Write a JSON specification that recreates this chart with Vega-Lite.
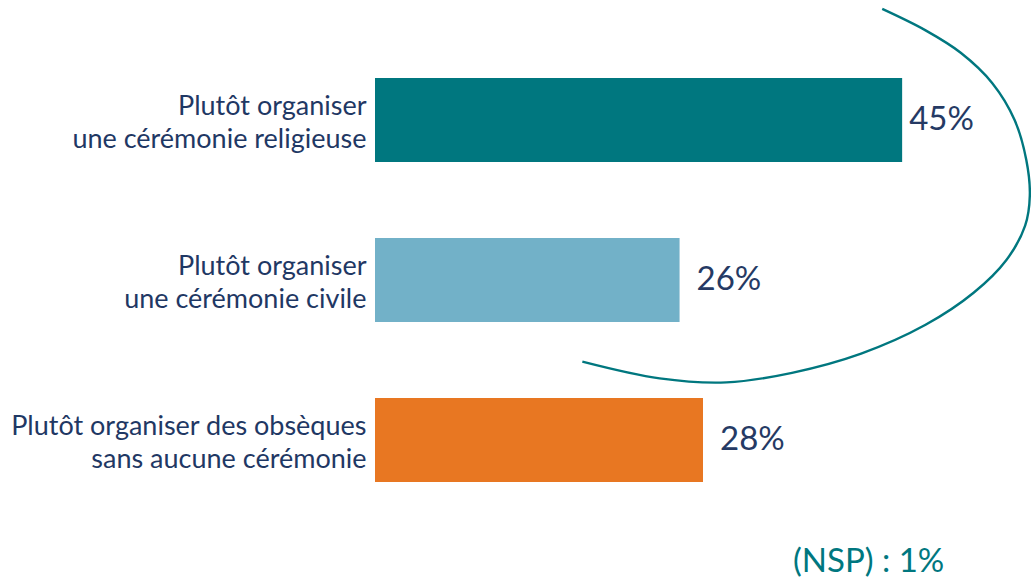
{
  "$schema": "https://vega.github.io/schema/vega-lite/v6.json",
  "width": 656,
  "height": 480,
  "autosize": {"type": "none"},
  "padding": {"left": 375, "top": 40, "right": 0, "bottom": 64},
  "background": "white",
  "config": {"view": {"stroke": null}, "font": "Lato"},
  "datasets": {
    "bars": [
      {"cat": "Plutôt organiser|une cérémonie religieuse", "pct": 45, "label": "45%"},
      {"cat": "Plutôt organiser|une cérémonie civile", "pct": 26, "label": "26%"},
      {"cat": "Plutôt organiser des obsèques|sans aucune cérémonie", "pct": 28, "label": "28%"}
    ],
    "arc": [
      {"i": 1, "pct": 43.3, "ay": 0.306},
      {"i": 2, "pct": 47.0, "ay": 0.44},
      {"i": 3, "pct": 50.0, "ay": 0.58},
      {"i": 4, "pct": 52.7, "ay": 0.77},
      {"i": 5, "pct": 54.6, "ay": 1.0},
      {"i": 6, "pct": 55.6, "ay": 1.25},
      {"i": 7, "pct": 55.9, "ay": 1.47},
      {"i": 8, "pct": 55.5, "ay": 1.66},
      {"i": 9, "pct": 53.9, "ay": 1.875},
      {"i": 10, "pct": 51.1, "ay": 2.08},
      {"i": 11, "pct": 47.0, "ay": 2.28},
      {"i": 12, "pct": 41.5, "ay": 2.46},
      {"i": 13, "pct": 35.6, "ay": 2.58},
      {"i": 14, "pct": 30.0, "ay": 2.64},
      {"i": 15, "pct": 24.3, "ay": 2.615},
      {"i": 16, "pct": 17.7, "ay": 2.51}
    ],
    "note": [
      {"pct": 48.6, "ay": 3.7625, "text": "(NSP) : 1%"}
    ]
  },
  "layer": [
    {
      "data": {"name": "bars"},
      "encoding": {
        "y": {
          "field": "cat", "type": "nominal", "sort": null,
          "scale": {"paddingInner": 0.475, "paddingOuter": 0.2375},
          "axis": {
            "title": null, "domain": false, "ticks": false,
            "labelExpr": "split(datum.label, '|')",
            "labelFontSize": 27, "labelColor": "#1F3864",
            "labelPadding": 9, "labelLineHeight": 33, "labelLimit": 400,
            "labelOffset": -13,
            "labelFont": "Lato"
          }
        },
        "x": {"field": "pct", "type": "quantitative", "scale": {"domain": [0, 56], "nice": false}, "axis": null}
      },
      "layer": [
        {
          "mark": {"type": "bar"},
          "encoding": {
            "color": {
              "field": "cat", "type": "nominal", "sort": null,
              "scale": {"range": ["#00777F", "#72B1C8", "#E87722"]},
              "legend": null
            }
          }
        },
        {
          "transform": [{"filter": "datum.pct == 45"}],
          "mark": {"type": "text", "align": "left", "baseline": "middle", "dx": 7, "fontSize": 33, "color": "#253A64"},
          "encoding": {"text": {"field": "label"}}
        },
        {
          "transform": [{"filter": "datum.pct != 45"}],
          "mark": {"type": "text", "align": "left", "baseline": "middle", "dx": 17, "fontSize": 33, "color": "#253A64"},
          "encoding": {"text": {"field": "label"}}
        }
      ]
    },
    {
      "layer": [
        {
          "data": {"name": "arc"},
          "mark": {"type": "line", "interpolate": "catmull-rom", "color": "#00777F", "strokeWidth": 2.4, "clip": false},
          "encoding": {
            "x": {"field": "pct", "type": "quantitative"},
            "y": {"field": "ay", "type": "quantitative", "scale": {"domain": [0.5, 3.5], "reverse": true, "nice": false, "zero": false}, "axis": null},
            "order": {"field": "i", "type": "quantitative"}
          }
        },
        {
          "data": {"name": "note"},
          "mark": {"type": "text", "align": "right", "baseline": "middle", "fontSize": 33, "color": "#00777F"},
          "encoding": {
            "x": {"field": "pct", "type": "quantitative"},
            "y": {"field": "ay", "type": "quantitative"},
            "text": {"field": "text"}
          }
        }
      ]
    }
  ],
  "resolve": {"scale": {"y": "independent", "color": "independent"}}
}
